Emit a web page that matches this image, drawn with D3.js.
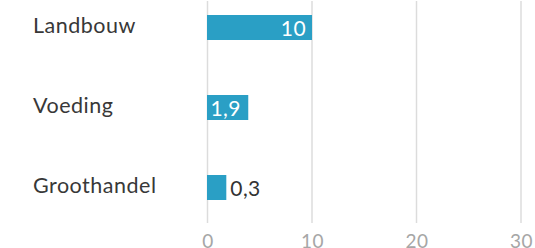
<!DOCTYPE html>
<html><head><meta charset="utf-8">
<script src="https://cdn.jsdelivr.net/npm/d3@7"></script>
<style>html,body{margin:0;padding:0;background:#fff;overflow:hidden}</style>
</head><body><svg id="c" width="535" height="248"></svg>
<script>
const categories = ["Landbouw", "Voeding", "Groothandel"];
// bar lengths as drawn in the picture
const values = [10, 3.9, 1.8];
// value labels as printed on the picture
const valueLabels = ["10", "1,9", "0,3"];
const ticks = [0, 10, 20, 30];
const labelInside = [true, true, false];

const svg = d3.select("#c");
const font = "Lato, 'Open Sans', sans-serif";
const x = d3.scaleLinear().domain([0, 30]).range([207.5, 521]);
const y = d3.scaleBand().domain(categories).range([-12.5, 227.5]).paddingInner(0.6875).paddingOuter(0.34375);

// grid lines
svg.append("g").selectAll("line").data(ticks).join("line")
  .attr("x1", d => x(d)).attr("x2", d => x(d))
  .attr("y1", 1).attr("y2", 223)
  .attr("stroke", "#dcdcdc").attr("stroke-width", 1.5);

// axis tick labels
const axis = d3.axisBottom(x).tickValues(ticks).tickSize(0).tickPadding(0).tickFormat(d3.format("d"));
const ag = svg.append("g").attr("transform", "translate(0,234)").call(axis);
ag.select(".domain").remove();
ag.selectAll("text").attr("fill", "#a6a6a6").attr("font-size", 19).attr("letter-spacing", 0.5).attr("font-family", font).attr("dy", "0.71em");

// bars
svg.append("g").selectAll("rect").data(values).join("rect")
  .attr("x", x(0) - 0.5)
  .attr("y", (d, i) => y(categories[i]))
  .attr("width", d => x(d) - x(0) + 0.5)
  .attr("height", y.bandwidth())
  .attr("fill", "#2a9fc5");

// value labels
svg.append("g").selectAll("text").data(values).join("text")
  .attr("x", (d, i) => labelInside[i] ? (i === 0 ? x(d) - 6 : x(0) + 3) : x(d) + 4)
  .attr("y", (d, i) => y(categories[i]) + y.bandwidth() / 2 + 1)
  .attr("dy", "0.35em")
  .attr("text-anchor", (d, i) => (labelInside[i] && i === 0) ? "end" : "start")
  .attr("fill", (d, i) => labelInside[i] ? "#fff" : "#333")
  .attr("font-size", 21).attr("letter-spacing", 0.4).attr("font-family", font)
  .text((d, i) => valueLabels[i]);

// category labels
svg.append("g").selectAll("text").data(categories).join("text")
  .attr("x", 33)
  .attr("y", d => y(d) + y.bandwidth() / 2 - 2)
  .attr("dy", "0.35em")
  .attr("fill", "#383838")
  .attr("font-size", 21.5).attr("letter-spacing", 0.5).attr("font-family", font)
  .text(d => d);
</script></body></html>
